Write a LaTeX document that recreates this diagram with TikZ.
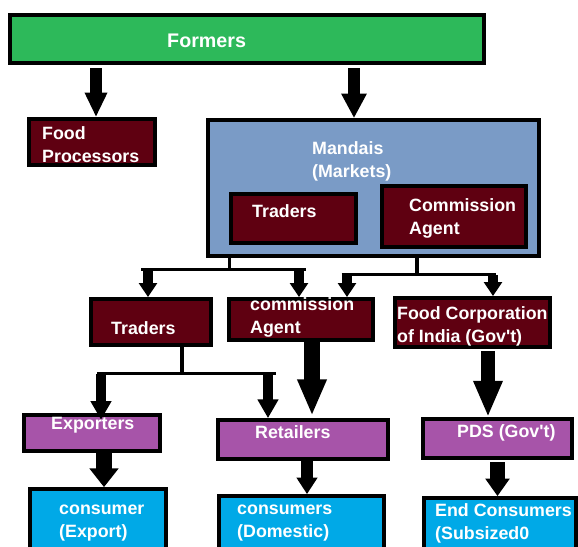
\documentclass[tikz,border=0pt]{standalone}
\usepackage{fontspec}
\setmainfont{Liberation Sans}
\usepackage{xcolor}
\usetikzlibrary{arrows.meta}

\definecolor{farmgreen}{HTML}{2DB95A}
\definecolor{mandimaroon}{HTML}{5F0011}
\definecolor{mandiblue}{HTML}{7A9BC6}
\definecolor{shoppurple}{HTML}{A754A9}
\definecolor{buyercyan}{HTML}{00A9E7}

\tikzset{
  box/.style={draw=black, line width=3.2pt, inner sep=0pt},
  txt/.style={text=white, inner sep=0pt, align=left, anchor=west,
    font=\fontsize{15.2}{19.6}\selectfont\bfseries},
  stem/.style={line width=2.6pt},
  farrow/.style={line width=9.5pt, -{Triangle[width=18pt,length=21pt]}},
  tarrow/.style={line width=9pt, -{Triangle[width=15pt,length=12pt]}},
  barrow/.style={line width=14pt, -{Triangle[width=23pt,length=31pt]}},
  carrow/.style={line width=12pt, -{Triangle[width=20pt,length=15pt]}},
}

\begin{document}
\begin{tikzpicture}[x=0.03cm,y=-0.03cm]
        \useasboundingbox (0,0) rectangle (578,546);
        % boxes
        \node[box, fill=farmgreen, minimum width=14.22cm, minimum height=1.44cm] (formers) at (247,39) {};
        \node[box, fill=mandimaroon, minimum width=3.78cm, minimum height=1.38cm] (foodproc) at (92,142) {};
        \node[box, fill=mandiblue, minimum width=9.93cm, minimum height=4.08cm] (mandais) at (373.5,188) {};
        \node[box, fill=mandimaroon, minimum width=3.75cm, minimum height=1.47cm] (mtraders) at (293.5,218.5) {};
        \node[box, fill=mandimaroon, minimum width=4.32cm, minimum height=1.83cm] (magent) at (454,216.5) {};
        \node[box, fill=mandimaroon, minimum width=3.6cm, minimum height=1.38cm] (traders) at (151,322) {};
        \node[box, fill=mandimaroon, minimum width=4.32cm, minimum height=1.23cm] (agent) at (301,319.5) {};
        \node[box, fill=mandimaroon, minimum width=4.65cm, minimum height=1.47cm] (fci) at (472.5,322.5) {};
        \node[box, fill=shoppurple, minimum width=4.08cm, minimum height=1.08cm] (exporters) at (92,433) {};
        \node[box, fill=shoppurple, minimum width=5.1cm, minimum height=1.17cm] (retailers) at (303,439.5) {};
        \node[box, fill=shoppurple, minimum width=4.47cm, minimum height=1.17cm] (pds) at (497.5,438.5) {};
        \node[box, fill=buyercyan, minimum width=4.08cm, minimum height=2.28cm] (cexport) at (98,527) {};
        \node[box, fill=buyercyan, minimum width=4.95cm, minimum height=2.07cm] (cdomestic) at (301.5,530.5) {};
        \node[box, fill=buyercyan, minimum width=4.56cm, minimum height=2.01cm] (cend) at (500,531.5) {};
        % texts
        \node[txt, font=\fontsize{16.8}{20}\selectfont\bfseries] (formerst) at (167,41) {Formers};
        \node[txt] (foodproct) at (42,145) {Food\\Processors};
        \node[txt] (mandaist) at (312,161) {Mandais\\(Markets)};
        \node[txt] (mtraderst) at (252,211) {Traders};
        \node[txt] (magentt) at (409,218) {Commission\\Agent};
        \node[txt] (traderst) at (111,328) {Traders};
        \node[txt] (agentt) at (250,317) {commission\\Agent};
        \node[txt] (fcit) at (397,326) {Food Corporation\\of India (Gov\textquotesingle t)};
        \node[txt] (exporterst) at (51,425) {Exporters};
        \node[txt] (retailerst) at (255,432) {Retailers};
        \node[txt] (pdst) at (457,433) {PDS (Gov\textquotesingle t)};
        \node[txt] (cexportt) at (59,523) {consumer\\(Export)};
        \node[txt] (cdomestict) at (237,523) {consumers\\(Domestic)};
        \node[txt] (cendt) at (435,523) {End Consumers\\(Subsized0};
        % formers
        \coordinate (fpin) at ([xshift=0.12cm]foodproc.north);
        \coordinate (mdin) at ([xshift=-0.585cm]mandais.north);
        \draw[farrow, shorten <=3pt] (fpin |- formers.south) -- (fpin);
        \draw[farrow, line width=11pt, -{Triangle[width=20.5pt,length=21pt]}, shorten <=3pt] (mdin |- formers.south) -- (mdin);
        % mandais split left
        \coordinate (m1) at (mtraders.west |- mandais.south);
        \coordinate (ta) at ([xshift=-0.09cm]traders.north);
        \coordinate (aa) at ([xshift=-0.06cm]agent.north);
        \draw[stem] (m1) -- ++(0,12) coordinate (m1b);
        \draw[stem, shorten <=-0.2cm, shorten >=-0.2cm] (ta |- m1b) -- (aa |- m1b);
        \draw[tarrow] (ta |- m1b) -- (ta);
        \draw[tarrow] (aa |- m1b) -- (aa);
        % mandais split right
        \coordinate (m2) at ([xshift=1.305cm]mandais.south);
        \coordinate (ab) at ([xshift=1.38cm]agent.north);
        \coordinate (fa) at ([xshift=0.615cm]fci.north);
        \draw[stem] (m2) -- ++(0,17) coordinate (m2b);
        \draw[stem, shorten <=-0.16cm, shorten >=-0.1cm] (ab |- m2b) -- (fa |- m2b);
        \draw[tarrow] (ab |- m2b) -- (ab);
        \draw[tarrow] (fa |- m2b) -- (fa);
        % traders split
        \coordinate (t1) at ([xshift=0.93cm]traders.south);
        \coordinate (ea) at ([xshift=0.27cm]exporters.north);
        \coordinate (ra) at ([xshift=-1.05cm]retailers.north);
        \draw[stem] (t1) -- ++(0,27) coordinate (t1b);
        \draw[stem, shorten <=-0.12cm, shorten >=-0.25cm] (ea |- t1b) -- (ra |- t1b);
        \draw[tarrow, -{Triangle[width=17pt,length=16pt]}] (ea |- t1b) -- ([yshift=-0.2cm]ea);
        \draw[tarrow, -{Triangle[width=17pt,length=16pt]}] (ra |- t1b) -- (ra);
        % big arrows
        \coordinate (aout) at ([xshift=0.33cm]agent.south);
        \coordinate (fout) at ([xshift=0.465cm]fci.south);
        \draw[barrow, shorten >=2pt] (aout) -- (aout |- retailers.north);
        \draw[barrow, line width=12pt, shorten <=2pt] (fout) -- (fout |- pds.north);
        % to consumers
        \coordinate (eout) at ([xshift=0.36cm]exporters.south);
        \coordinate (rout) at ([xshift=0.12cm]retailers.south);
        \draw[carrow, line width=13pt, -{Triangle[width=24pt,length=16pt]}] (eout) -- (eout |- cexport.north);
        \draw[carrow, line width=11pt, -{Triangle[width=17pt,length=14pt]}] (rout) -- (rout |- cdomestic.north);
        \draw[carrow, shorten <=2pt] (pds.south) -- (cend.north -| pds.south);
\end{tikzpicture}
\end{document}
